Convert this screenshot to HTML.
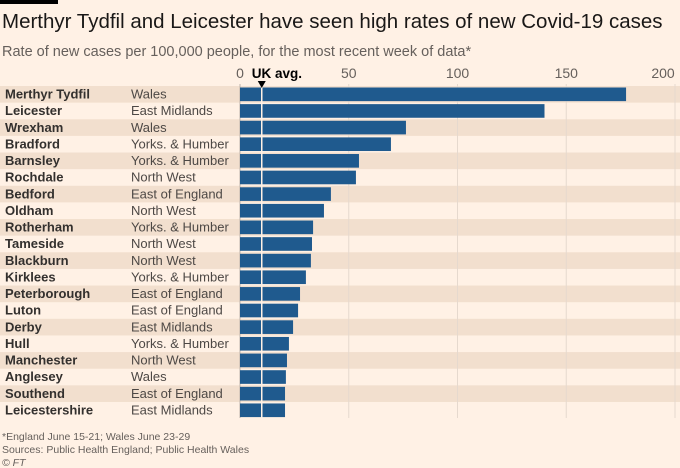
<!DOCTYPE html>
<html><head><meta charset="utf-8"><style>
body{margin:0;background:#fff1e5;font-family:"Liberation Sans",sans-serif;}
#wrap{position:relative;width:680px;height:468px;overflow:hidden;}
</style></head><body>
<div id="wrap">
<svg id="svg" width="680" height="468">
<rect x="0" y="0" width="58" height="4" fill="#000"/>
<text x="2" y="28" font-size="20.5" fill="#1a1817">Merthyr Tydfil and Leicester have seen high rates of new Covid-19 cases</text>
<text x="2" y="56" font-size="14.5" fill="#66605c">Rate of new cases per 100,000 people, for the most recent week of data*</text>
<g id="bands"></g><g id="grid"></g><g id="bars"></g><g id="labels"></g>
<text x="2" y="440" font-size="10.5" fill="#66605c">*England June 15-21; Wales June 23-29</text>
<text x="2" y="453" font-size="10.5" fill="#66605c">Sources: Public Health England; Public Health Wales</text>
<text x="2" y="466" font-size="10.5" fill="#66605c" font-style="italic">© FT</text>
</svg></div>
<script>
const places=["Merthyr Tydfil","Leicester","Wrexham","Bradford","Barnsley","Rochdale","Bedford","Oldham","Rotherham","Tameside","Blackburn","Kirklees","Peterborough","Luton","Derby","Hull","Manchester","Anglesey","Southend","Leicestershire"];
const regions=["Wales","East Midlands","Wales","Yorks. & Humber","Yorks. & Humber","North West","East of England","North West","Yorks. & Humber","North West","North West","Yorks. & Humber","East of England","East of England","East Midlands","Yorks. & Humber","North West","Wales","East of England","East Midlands"];
const rates=[177.5,140,76.3,69.4,54.7,53.3,41.8,38.6,33.6,33.1,32.6,30.3,27.6,26.7,24.4,22.5,21.6,21.1,20.7,20.7];
const ticks=[0,50,100,150,200];
const ukAvg=10;
const NS="http://www.w3.org/2000/svg";
const x=v=>240+v*2.175, y0=86, rowH=16.63;
function mk(p,tag,at){const e=document.createElementNS(NS,tag);for(const k in at)e.setAttribute(k,at[k]);document.getElementById(p).appendChild(e);return e;}
places.forEach((p,i)=>{
  if(i%2===0){const b=mk("bands","rect",{x:0,y:y0+i*rowH,width:680,height:rowH,fill:"#f2dfce"});
  
  }
});
ticks.forEach(t=>{
  const l=mk("grid","line",{x1:x(t),x2:x(t),y1:84,y2:418,stroke:t===0?"#bdb3aa":"#e6d9ce","stroke-width":1});
  
  
  const tx=mk("grid","text",{x:t===200?663:x(t),y:78,"font-size":14,fill:"#66605c","text-anchor":"middle"});
  tx.textContent=t;
  
  
});
places.forEach((p,i)=>{
  const yy=y0+i*rowH;
  const r=mk("bars","rect",{x:x(0),y:yy+1.5,width:x(rates[i])-x(0),height:rowH-3,fill:"#1f5a8e"});
  
  
  const a=mk("labels","text",{x:5,y:yy+12.5,"font-size":13,"font-weight":"bold",fill:"#33302e"});
  a.textContent=p;
  
  
  const b=mk("labels","text",{x:131,y:yy+12.5,"font-size":13,fill:"#4d4845"});
  b.textContent=regions[i];
  
  
});
const ul=mk("bars","line",{x1:x(ukAvg),x2:x(ukAvg),y1:86,y2:418,stroke:"#fff1e5","stroke-width":1.5});


const tri=mk("bars","path",{d:`M${x(ukAvg)-4},81 L${x(ukAvg)+4},81 L${x(ukAvg)},88 Z`,fill:"#000"});


const ut=mk("bars","text",{x:x(ukAvg)-10,y:78,"font-size":13.5,"font-weight":"bold",fill:"#000"});
ut.textContent="UK avg.";


</script>
</body></html>
